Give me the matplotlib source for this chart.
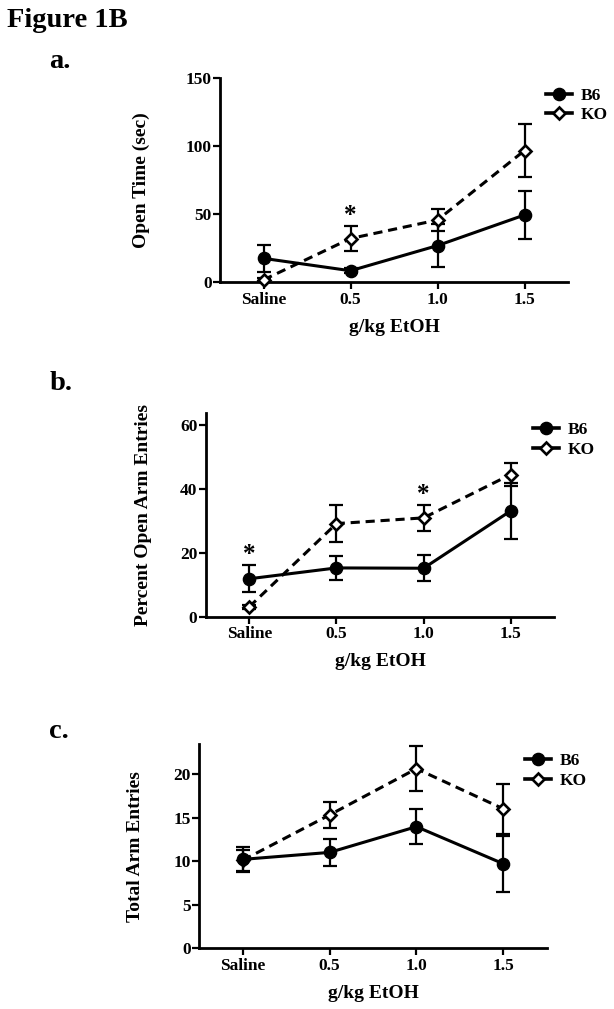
import matplotlib
matplotlib.use("Agg")
import matplotlib.pyplot as plt
from matplotlib.lines import Line2D

plt.rcParams['font.family'] = ['Liberation Serif', 'DejaVu Serif']
plt.rcParams['font.weight'] = 'bold'

# ---------------- data ----------------
doses = ["Saline", "0.5", "1.0", "1.5"]
xlabel = "g/kg EtOH"

# panel a: Open Time (sec)
a_b6 = [17.6, 8.5, 27.0, 49.5]
a_b6_sem = [9.8, 2.0, 16.0, 17.4]
a_ko = [1.8, 32.2, 45.8, 96.9]
a_ko_sem = [1.0, 9.3, 8.0, 19.6]
a_stars = [("KO", 1)]
a_yticks = [0, 50, 100, 150]
a_ylim = (0, 150)

# panel b: Percent Open Arm Entries
b_b6 = [11.9, 15.3, 15.2, 33.2]
b_b6_sem = [4.3, 3.8, 4.1, 8.8]
b_ko = [3.1, 29.2, 31.0, 44.6]
b_ko_sem = [0.6, 5.7, 4.0, 3.7]
b_stars = [("B6", 0), ("KO", 2)]
b_yticks = [0, 20, 40, 60]
b_ylim = (0, 63.8)

# panel c: Total Arm Entries
c_b6 = [10.2, 11.0, 13.95, 9.7]
c_b6_sem = [1.4, 1.55, 2.0, 3.2]
c_ko = [10.1, 15.3, 20.6, 16.0]
c_ko_sem = [1.2, 1.5, 2.6, 2.9]
c_stars = []
c_yticks = [0, 5, 10, 15, 20]
c_ylim = (0, 23.4)

series_labels = ["B6", "KO"]

# ---------------- layout ----------------
W, H = 614, 1009
fig = plt.figure(figsize=(W / 100, H / 100), dpi=100)
fig.patch.set_facecolor("white")


def px_rect(l, r, t, b):
    return [l / W, 1 - b / H, (r - l) / W, (b - t) / H]


panels = [
    dict(rect=(220, 568, 78.3, 282.3), b6=a_b6, b6s=a_b6_sem, ko=a_ko, kos=a_ko_sem,
         stars=a_stars, yticks=a_yticks, ylim=a_ylim, ylabel="Open Time (sec)",
         ylab_x=141, leg=(546, 105.5), letter="a.", letter_pos=(49, 68.3)),
    dict(rect=(205.7, 554.3, 413.3, 616.7), b6=b_b6, b6s=b_b6_sem, ko=b_ko, kos=b_ko_sem,
         stars=b_stars, yticks=b_yticks, ylim=b_ylim, ylabel="Percent Open Arm Entries",
         ylab_x=144, leg=(532.7, 439.7), letter="b.", letter_pos=(50, 390)),
    dict(rect=(199.3, 546.7, 744.3, 948.3), b6=c_b6, b6s=c_b6_sem, ko=c_ko, kos=c_ko_sem,
         stars=c_stars, yticks=c_yticks, ylim=c_ylim, ylabel="Total Arm Entries",
         ylab_x=136, leg=(525.3, 771), letter="c.", letter_pos=(49, 737.7)),
]

fig.text(6.7 / W, 1 - 26.7 / H, "Figure 1B", fontsize=20.5, fontweight="bold",
         ha="left", va="baseline")

x = list(range(len(doses)))
lw_data = 2.2
for p in panels:
    l, r, t, b = p["rect"]
    ax = fig.add_axes(px_rect(l, r, t, b))
    ax.set_xlim(-0.5, 3.5)
    ax.set_ylim(*p["ylim"])
    for s in ["top", "right"]:
        ax.spines[s].set_visible(False)
    for s in ["left", "bottom"]:
        ax.spines[s].set_linewidth(2.0)

    ek = dict(fmt="none", ecolor="black", elinewidth=1.6, capsize=4.7, capthick=1.6,
              clip_on=False)
    e1 = ax.errorbar(x, p["b6"], yerr=p["b6s"], zorder=2, **ek)
    e2 = ax.errorbar(x, p["ko"], yerr=p["kos"], zorder=2, **ek)
    for e in (e1, e2):
        for artist in e.lines[1] + e.lines[2]:
            artist.set_clip_on(False)
    ax.plot(x, p["b6"], "-", color="black", lw=lw_data, zorder=3, clip_on=False)
    ax.plot(x, p["ko"], color="black", lw=lw_data, ls=(0, (3.0, 1.9)), zorder=3,
            clip_on=False)
    ax.plot(x, p["ko"], ls="none", marker="D", ms=6.6, mfc="white", mec="black",
            mew=1.9, zorder=4, clip_on=False)
    ax.plot(x, p["b6"], ls="none", marker="o", ms=8.8, mfc="black", mec="black",
            zorder=5, clip_on=False)

    for grp, i in p["stars"]:
        m = p["b6"] if grp == "B6" else p["ko"]
        s = p["b6s"] if grp == "B6" else p["kos"]
        ax.annotate("*", xy=(i, m[i] + s[i]), xytext=(0, -0.8), textcoords="offset points",
                    ha="center", va="bottom", fontsize=18, fontweight="bold")

    ax.set_xticks(x)
    ax.set_xticklabels(doses)
    ax.set_yticks(p["yticks"])
    ax.tick_params(axis="both", which="major", length=5, width=1.6, labelsize=12.5,
                   direction="out")
    ax.tick_params(axis="x", pad=2.0)
    ax.tick_params(axis="y", pad=1.0)
    for lab in ax.get_xticklabels() + ax.get_yticklabels():
        lab.set_fontweight("bold")

    # axis titles
    fig.text(p["ylab_x"] / W, 1 - (t + b) / 2 / H, p["ylabel"], rotation=90,
             ha="center", va="center", fontsize=14, fontweight="bold")
    fig.text((l + r) / 2 / W, 1 - (b + 49.4) / H, xlabel, ha="center",
             va="baseline", fontsize=14, fontweight="bold")
    fig.text(p["letter_pos"][0] / W, 1 - p["letter_pos"][1] / H, p["letter"],
             ha="left", va="baseline", fontsize=20.5, fontweight="bold")

    handles = [
        Line2D([], [], color="black", lw=2.6, marker="o", ms=8.8, mfc="black", mec="black"),
        Line2D([], [], color="black", lw=2.6, marker="D", ms=6.6, mfc="white", mec="black",
               mew=1.9),
    ]
    lx, ly = p["leg"]
    ax.legend(handles, series_labels, loc="center left",
              bbox_to_anchor=(lx / W, 1 - ly / H), bbox_transform=fig.transFigure,
              frameon=False, borderpad=0, borderaxespad=0, handlelength=1.5,
              handletextpad=0.5, labelspacing=0.2,
              prop=dict(family="Liberation Serif", weight="bold", size=12.5))

fig.savefig("out.png", dpi=100, facecolor="white")
